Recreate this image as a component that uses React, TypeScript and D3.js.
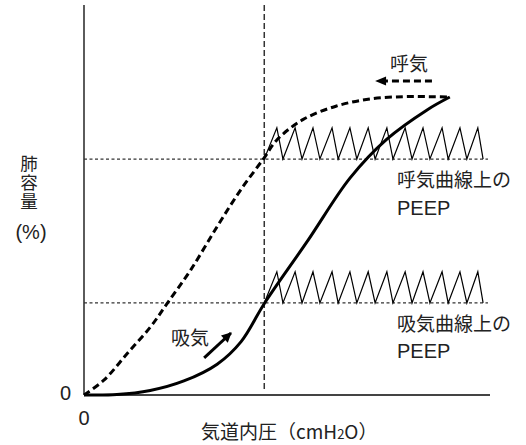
import React from "react";
import * as d3 from "d3";

// ---- Data (pressure in arbitrary units 0-100, volume in %) ----
const inspPressure = [0, 8.1, 16.3, 24.6, 32.8, 38.7, 44.5, 55.2, 65.5, 74.6, 84.5, 90.1];
const inspVolume = [0, 0.1, 1.15, 3.6, 7.9, 13.7, 23.6, 39.7, 55.6, 65.6, 73.1, 76.4];

const expPressure = [0, 4.9, 10.7, 16.4, 20.5, 26.3, 32.8, 38.6, 44.3, 47.5, 53.9, 62.2, 70.4, 78.6, 85.2, 90.1];
const expVolume = [0, 3.8, 10.7, 17.5, 23.5, 32.1, 43.2, 52.6, 60.7, 65.4, 70.6, 74.1, 75.9, 76.5, 76.5, 76.4];

const peepPressure = 44.4;
const peepVolumeExp = 60.5;
const peepVolumeInsp = 23.6;
const breathAmplitude = 8;
const breathPeaks = [47.5, 52.0, 56.4, 61.1, 65.5, 70.0, 74.6, 79.1, 83.5, 88.2, 92.6, 97.0];
const breathValleys = [44.4, 49.0, 53.7, 58.1, 62.6, 67.2, 71.7, 76.1, 80.8, 85.2, 89.7, 94.3, 98.3];

const yLabel = "肺容量";
const yLabelUnit = "(%)";
const xLabelMain = "気道内圧（cmH";
const xLabelSub = "2";
const xLabelEnd = "O）";
const annotations = {
  exp: "呼気",
  insp: "吸気",
  expPeep: ["呼気曲線上の", "PEEP"],
  inspPeep: ["吸気曲線上の", "PEEP"],
};

const W = 526;
const H = 445;
const CJK = "'Noto Sans CJK JP', 'Noto Sans', sans-serif";
const LAT = "'Liberation Sans', Arial, sans-serif";

export default function App() {
  const x = d3.scaleLinear().domain([0, 100]).range([84, 490]);
  const y = d3.scaleLinear().domain([0, 100]).range([395, 5]);

  const line = d3
    .line<[number, number]>()
    .x((d) => x(d[0]))
    .y((d) => y(d[1]))
    .curve(d3.curveCatmullRom.alpha(0.5));
  const straight = d3
    .line<[number, number]>()
    .x((d) => x(d[0]))
    .y((d) => y(d[1]));

  const insp: [number, number][] = inspPressure.map((p, i) => [p, inspVolume[i]]);
  const exp: [number, number][] = expPressure.map((p, i) => [p, expVolume[i]]);

  const zig = (base: number): [number, number][] => {
    const pts: [number, number][] = [];
    breathValleys.forEach((v, i) => {
      pts.push([v, base]);
      if (i < breathPeaks.length) pts.push([breathPeaks[i], base + breathAmplitude]);
    });
    return pts;
  };

  const textColor = "#222";

  return (
    <svg
      width={W}
      height={H}
      style={{ position: "absolute", left: 0, top: 0, background: "#fff" }}
    >
      <defs>
        <marker
          id="ah"
          viewBox="0 0 10 10"
          refX="9"
          refY="5"
          markerUnits="userSpaceOnUse"
          markerWidth="11"
          markerHeight="10"
          orient="auto"
        >
          <path d="M0,0 L10,5 L0,10 Z" fill="#000" />
        </marker>
      </defs>

      {/* reference lines */}
      <path
        d={straight([[0, peepVolumeExp], [99.5, peepVolumeExp]]) || ""}
        stroke="#333"
        strokeWidth={1.2}
        strokeDasharray="3,2.5"
        fill="none"
      />
      <path
        d={straight([[0, peepVolumeInsp], [99.5, peepVolumeInsp]]) || ""}
        stroke="#333"
        strokeWidth={1.2}
        strokeDasharray="3,2.5"
        fill="none"
      />
      <path
        d={straight([[peepPressure, 100], [peepPressure, 1]]) || ""}
        stroke="#333"
        strokeWidth={1.5}
        strokeDasharray="6,3"
        fill="none"
      />

      {/* breaths */}
      <path d={straight(zig(peepVolumeExp)) || ""} stroke="#000" strokeWidth={1.2} fill="none" />
      <path d={straight(zig(peepVolumeInsp)) || ""} stroke="#000" strokeWidth={1.2} fill="none" />

      {/* axes */}
      <line x1={x(0)} x2={x(0)} y1={y(100)} y2={y(0)} stroke="#333" strokeWidth={1.6} />
      <line x1={x(0)} x2={x(100)} y1={y(0)} y2={y(0)} stroke="#444" strokeWidth={2} />

      {/* curves */}
      <path d={line(exp) || ""} stroke="#000" strokeWidth={3} strokeDasharray="7,4" fill="none" />
      <path d={line(insp) || ""} stroke="#000" strokeWidth={3} fill="none" />

      {/* arrows */}
      <path
        d={straight([[29.6, 9.5], [36.2, 15.9]]) || ""}
        stroke="#000"
        strokeWidth={3}
        fill="none"
        markerEnd="url(#ah)"
      />
      <path
        d={straight([[85.7, 80.5], [73.5, 80.5]]) || ""}
        stroke="#000"
        strokeWidth={3}
        strokeDasharray="7,4"
        fill="none"
      />
      <path
        d={`M${x(71.7)},${y(80.5)} L${x(74.4)},${y(80.5) - 4.5} L${x(74.4)},${y(80.5) + 4.5} Z`}
        fill="#000"
      />

      {/* texts */}
      <g fill={textColor} fontFamily={CJK} fontSize={19}>
        <text x={x(75.4)} y={y(83)}>{annotations.exp}</text>
        <text x={171} y={345}>{annotations.insp}</text>
        <text x={397} y={187}>{annotations.expPeep[0]}</text>
        <text x={397} y={331}>{annotations.inspPeep[0]}</text>
      </g>
      <text
        x={29}
        y={155}
        fill={textColor}
        fontFamily={CJK}
        fontSize={17.5}
        writingMode="vertical-rl"
        style={{ letterSpacing: "1.2px" }}
      >
        {yLabel}
      </text>
      <g fill={textColor} fontFamily={LAT} fontSize={20}>
        <text x={397} y={215}>{annotations.expPeep[1]}</text>
        <text x={397} y={358}>{annotations.inspPeep[1]}</text>
        <text x={31} y={239} textAnchor="middle">{yLabelUnit}</text>
        <text x={71} y={400} textAnchor="end">0</text>
        <text x={x(0)} y={425} textAnchor="middle">0</text>
      </g>
      <text x={201} y={439} fill={textColor} fontFamily={CJK} fontSize={19}>
        {xLabelMain}
        <tspan fontSize={13}>{xLabelSub}</tspan>
        <tspan>{xLabelEnd}</tspan>
      </text>
    </svg>
  );
}
